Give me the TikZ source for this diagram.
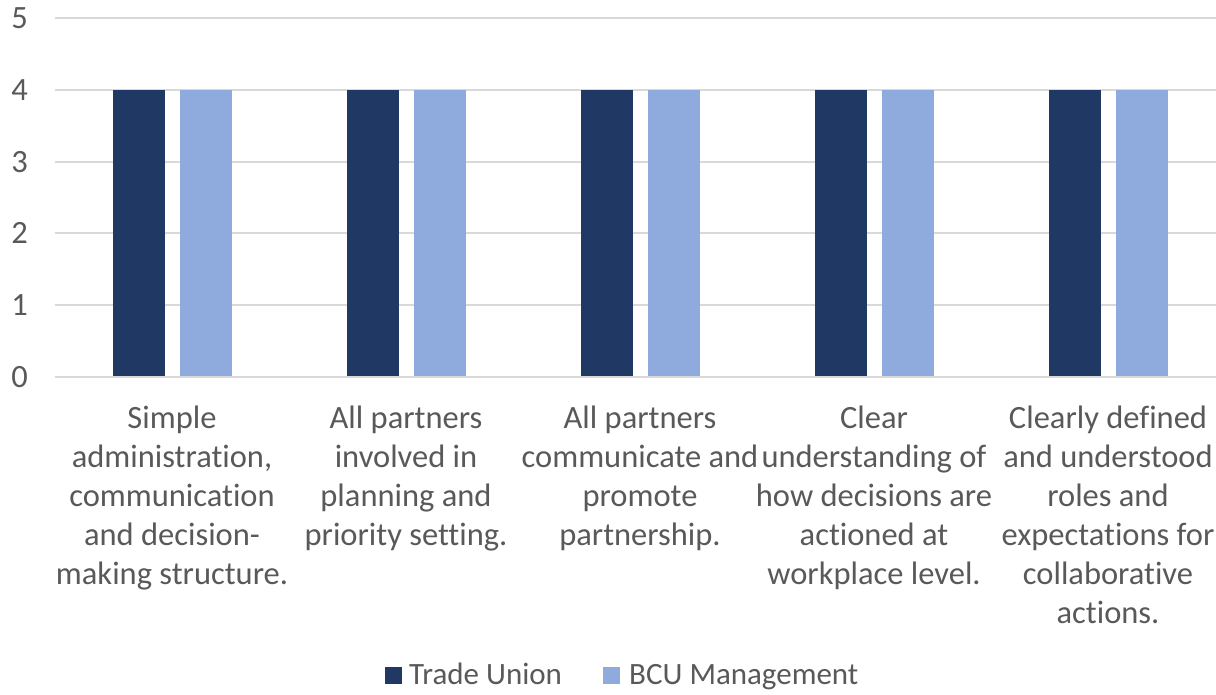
\documentclass[tikz,border=0pt]{standalone}
\usepackage{fontspec}
\setmainfont{Carlito}[Ligatures={NoCommon,NoContextual}]
\usepackage{tikz}

\definecolor{tuBlue}{HTML}{203864}
\definecolor{bcuBlue}{HTML}{8FAADC}
\definecolor{gridGray}{HTML}{D9D9D9}
\definecolor{txtGray}{HTML}{595959}

\tikzset{
  grid line/.style={draw=gridGray,line width=2pt},
  tu bar/.style={fill=tuBlue,draw=none},
  bcu bar/.style={fill=bcuBlue,draw=none},
  tick label/.style={anchor=east,inner sep=0pt,text=txtGray,font=\fontsize{32.5}{39}\selectfont},
  cat label/.style={anchor=north,inner sep=0pt,align=center,text=txtGray,font=\fontsize{32.5}{39}\selectfont},
  key label/.style={anchor=base west,inner sep=0pt,text=txtGray,font=\fontsize{31}{37}\selectfont}
}

\begin{document}
\begin{tikzpicture}[x=1pt,y=-1pt]
  \useasboundingbox (0,0) rectangle (1216,694);

  % gridlines and y axis
  \draw[grid line] (55,18) -- (1216,18);
  \draw[grid line] (55,90) -- (1216,90);
  \draw[grid line] (55,162) -- (1216,162);
  \draw[grid line] (55,233) -- (1216,233);
  \draw[grid line] (55,305) -- (1216,305);

  \node[tick label] (t5) at (28,18){5};
  \node[tick label] (t4) at (28,90){4};
  \node[tick label] (t3) at (28,162){3};
  \node[tick label] (t2) at (28,233){2};
  \node[tick label] (t1) at (28,305){1};
  \node[tick label] (t0) at (28,377){0};

  % bars
  \fill[tu bar] (113,90) rectangle (165,377);
  \fill[bcu bar] (180,90) rectangle (232,377);
  \fill[tu bar] (347,90) rectangle (399,377);
  \fill[bcu bar] (414,90) rectangle (466,377);
  \fill[tu bar] (581,90) rectangle (633,377);
  \fill[bcu bar] (648,90) rectangle (700,377);
  \fill[tu bar] (815,90) rectangle (867,377);
  \fill[bcu bar] (882,90) rectangle (934,377);
  \fill[tu bar] (1049,90) rectangle (1101,377);
  \fill[bcu bar] (1116,90) rectangle (1168,377);

  \draw[grid line] (55,377) -- (1216,377);

  % category labels
  \node[cat label] (c1) at (172,406){Simple\\administration,\\communication\\and decision-\\making structure.};
  \node[cat label] (c2) at (406,406){All partners\\involved in\\planning and\\priority setting.};
  \node[cat label] (c3) at (640,406){All partners\\communicate and\\promote\\partnership.};
  \node[cat label] (c4) at (874,406){Clear\\understanding of\\how decisions are\\actioned at\\workplace level.};
  \node[cat label] (c5) at (1108,406){Clearly defined\\and understood\\roles and\\expectations for\\collaborative\\actions.};

  % legend
  \fill[tu bar] (385,667) rectangle (402,684);
  \node[key label] (k1) at (409,684){Trade Union};
  \fill[bcu bar] (603,667) rectangle (620,684);
  \node[key label] (k2) at (629,684){BCU Management};
\end{tikzpicture}
\end{document}
